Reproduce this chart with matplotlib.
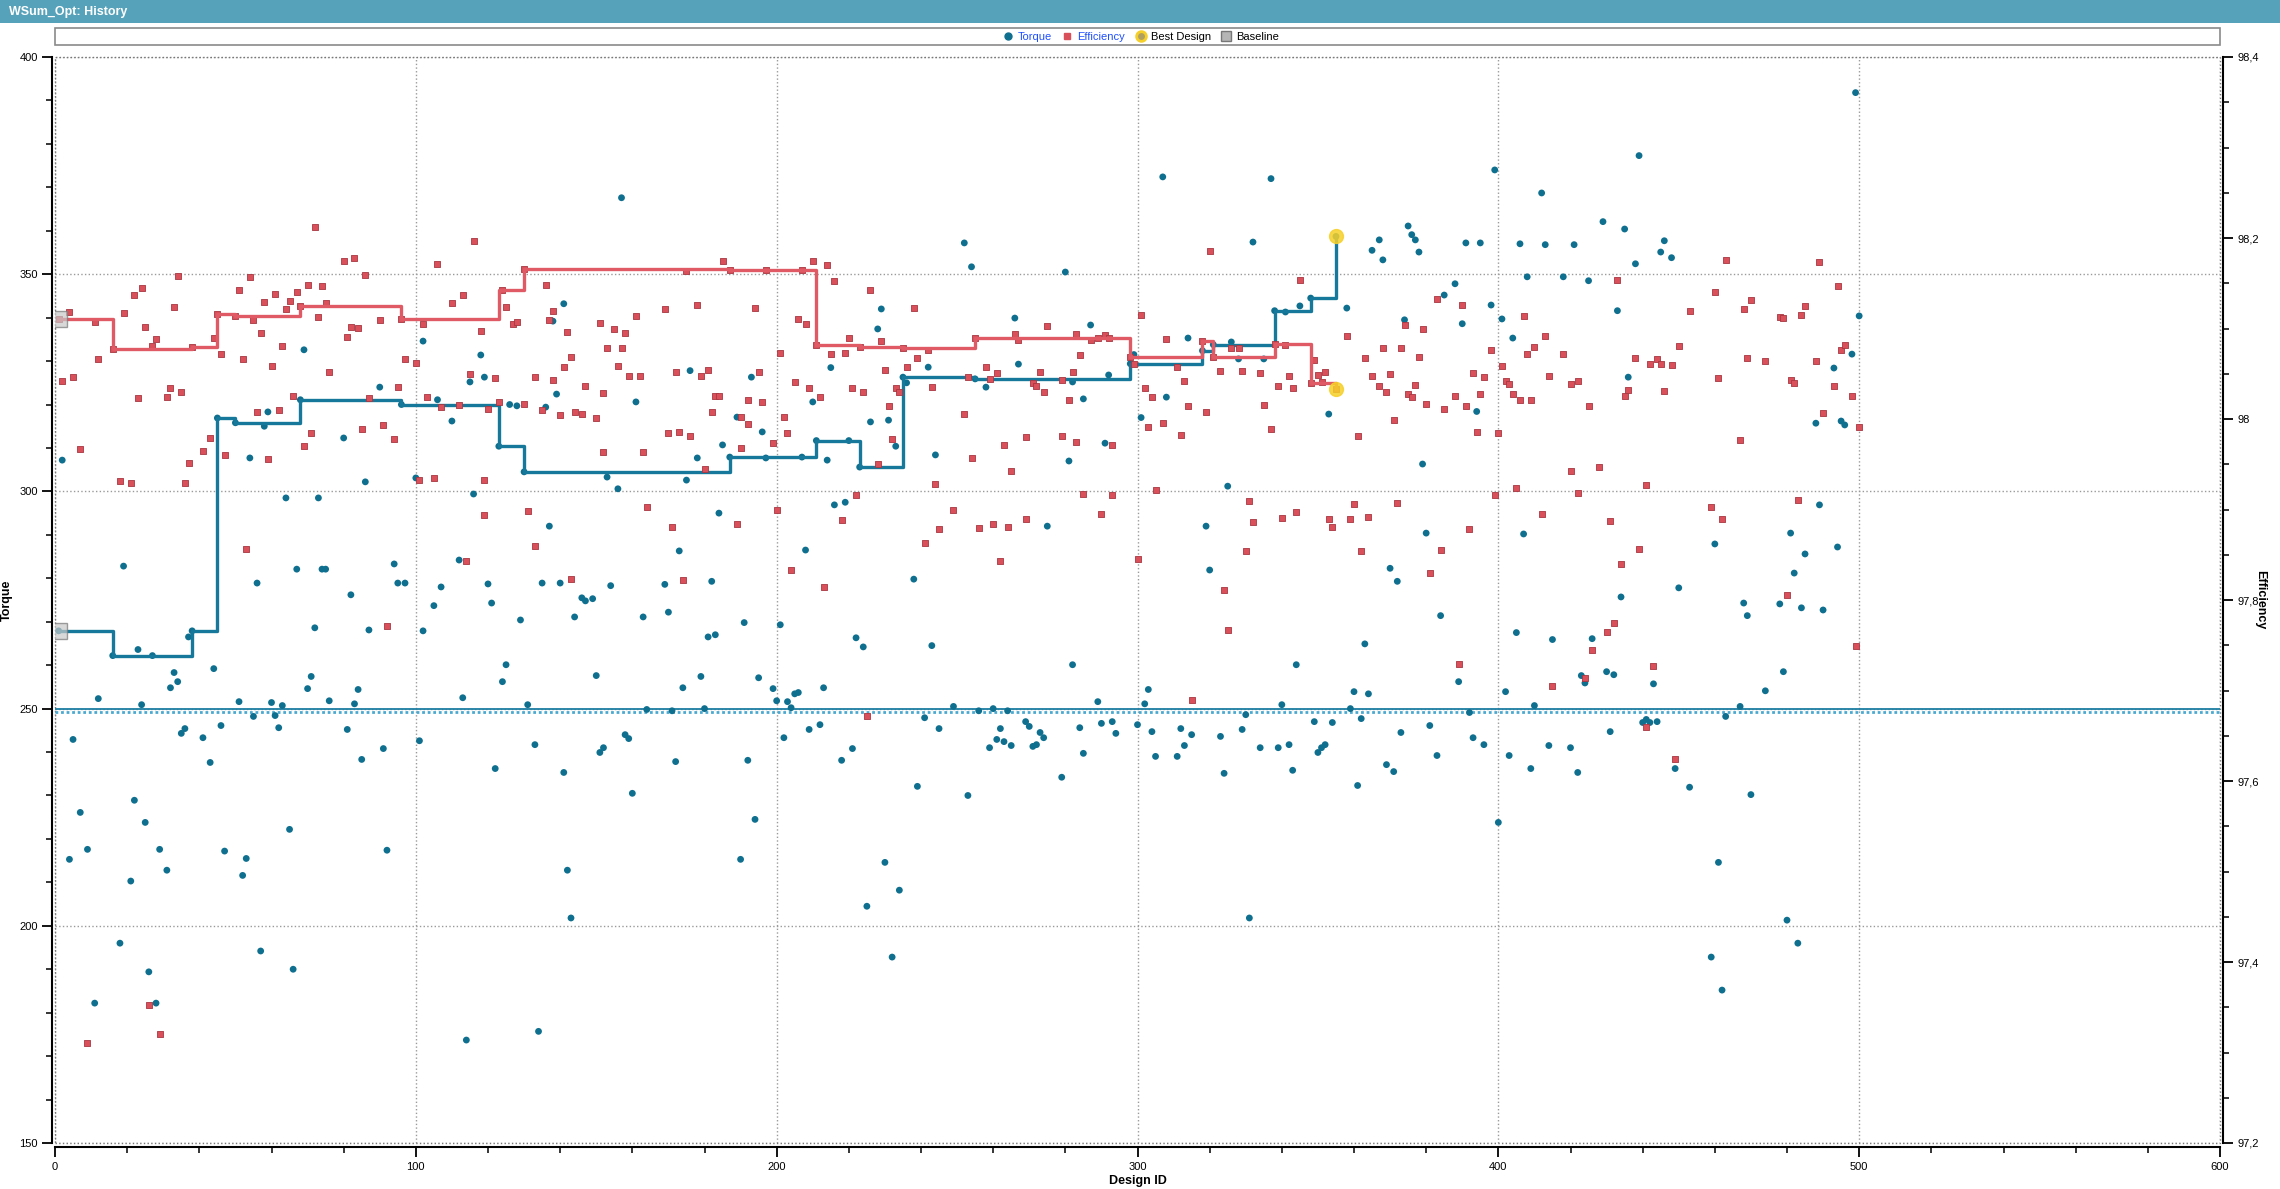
import matplotlib.pyplot as plt
import matplotlib.transforms as mtransforms
from matplotlib.lines import Line2D
from matplotlib.patches import Rectangle
from matplotlib.ticker import MultipleLocator, FuncFormatter

plt.rcParams['font.family'] = ['Liberation Sans', 'DejaVu Sans']

# ---- data ----
torque_id = [
    1, 2, 4, 5, 7, 9, 11, 12, 16, 18, 19, 21, 22, 23, 24, 25, 26, 27, 28, 29,
    31, 32, 33, 34, 35, 36, 37, 38, 41, 43, 44, 45, 46, 47, 50, 51, 52, 53, 54, 55,
    56, 57, 58, 59, 60, 61, 62, 63, 64, 65, 66, 67, 68, 69, 70, 71, 72, 73, 74, 75,
    76, 80, 81, 82, 83, 84, 85, 86, 87, 90, 91, 92, 94, 95, 96, 97, 100, 101, 102, 102,
    105, 106, 107, 110, 112, 113, 114, 115, 116, 118, 119, 120, 121, 122, 123, 124, 125, 126, 128, 130,
    129, 131, 133, 134, 135, 136, 137, 138, 139, 140, 141, 141, 142, 143, 144, 146, 147, 149, 150, 151,
    152, 153, 154, 156, 157, 158, 159, 160, 161, 163, 164,
    169, 170, 171, 172, 173, 174, 175, 176, 178, 179, 180, 181, 182, 183, 184, 185, 187, 189, 190, 191,
    192, 193, 194, 195, 196, 197, 199, 200, 201, 202, 203, 204, 205, 206, 207, 208, 209, 210, 211, 212,
    213, 214, 215, 216, 218, 219, 220, 221, 222, 223, 224, 225, 226, 228, 229, 230, 231, 232, 233, 234,
    235, 236, 238, 239, 241, 242, 243, 244, 245, 249, 252, 253, 254, 255, 256, 258, 259, 260, 261, 262,
    263, 264, 265, 266, 267, 269, 270, 271, 272, 273, 274, 275, 279, 280, 281, 282, 282, 284, 285, 285,
    287, 289, 290, 291, 292, 293, 294, 298, 299, 300, 301, 302, 303, 304, 305, 307, 308, 311, 312, 313,
    314, 315, 318, 319, 320, 321, 323, 324, 325, 326, 328, 329, 330, 331, 332, 334, 335,
    337, 338, 339, 340, 341, 342, 343, 344, 345, 348, 349, 350, 351, 352, 353, 354, 355, 358, 359, 360,
    361, 362, 363, 364, 365, 367, 368, 369, 370, 371, 372, 373, 374, 375, 376, 377, 378, 379, 380, 381,
    383, 384, 385, 388, 389, 390, 391, 392, 393, 394, 395, 396, 398, 399, 400, 401, 402, 403, 404, 405,
    406, 407, 408, 409, 410, 412, 413, 414, 415, 418, 420, 421, 422, 423, 424, 425, 426, 429, 430, 431,
    432, 433, 434, 435, 436, 438, 439, 440, 441, 442, 443, 444, 445, 446, 448, 449, 450, 453, 459, 460,
    461, 462, 463, 467, 468, 469, 470, 474, 478, 479, 480, 481, 482, 483, 484, 485, 488, 489, 490, 493,
    494, 495, 496, 498, 499, 500,
]
torque = [
    267.9, 307.2, 215.3, 242.9, 226.1, 217.6, 182.2, 252.3, 262.2, 196.0, 282.8, 210.3, 228.9, 263.6, 250.9, 223.8, 189.4, 262.2, 182.2, 217.6,
    212.8, 254.8, 258.3, 256.2, 244.3, 245.4, 266.5, 267.9, 243.3, 237.6, 259.2, 316.9, 246.1, 217.2, 315.8, 251.6, 211.6, 215.5, 307.7, 248.2,
    278.9, 194.2, 315.0, 318.3, 251.4, 248.4, 245.6, 250.7, 298.5, 222.2, 190.0, 282.1, 321.1, 332.6, 254.6, 257.4, 268.6, 298.5, 282.1, 282.1,
    251.8, 312.3, 245.2, 276.2, 251.1, 254.4, 238.3, 302.2, 268.1, 324.0, 240.8, 217.4, 283.3, 278.9, 320.0, 278.9, 303.1, 242.6, 334.6, 267.9,
    273.7, 321.1, 278.0, 316.2, 284.2, 252.5, 173.7, 325.2, 299.4, 331.4, 326.3, 278.7, 274.3, 236.2, 310.4, 256.2, 260.1, 320.0, 319.7, 304.5,
    270.4, 250.9, 241.7, 175.7, 278.9, 319.4, 292.0, 339.2, 322.4, 278.9, 343.2, 235.3, 212.8, 201.8, 271.1, 275.5, 274.8, 275.3, 257.6, 239.9,
    241.0, 303.3, 278.3, 300.6, 367.6, 244.0, 243.1, 230.5, 320.6, 271.1, 249.8,
    278.6, 272.2, 249.5, 237.8, 286.3, 254.8, 302.6, 327.8, 307.7, 257.4, 250.0, 266.5, 279.3, 267.0, 295.0, 310.7, 307.9, 317.1, 215.3, 269.8,
    238.1, 326.3, 224.5, 257.1, 313.7, 307.7, 254.6, 251.8, 269.3, 243.3, 251.6, 250.2, 253.4, 253.7, 307.9, 286.5, 245.2, 320.6, 311.7, 246.3,
    254.8, 307.2, 328.5, 296.9, 238.1, 297.5, 311.7, 240.8, 266.3, 305.6, 264.2, 204.5, 316.0, 337.4, 342.0, 214.6, 316.4, 192.8, 310.4, 208.2,
    326.3, 325.0, 279.8, 232.1, 247.9, 328.6, 264.5, 308.4, 245.4, 250.5, 357.2, 230.0, 351.7, 325.9, 249.5, 324.0, 241.0, 250.0, 242.9, 245.4,
    242.4, 249.5, 241.5, 339.9, 329.3, 247.0, 245.9, 241.3, 241.7, 244.5, 243.3, 292.0, 234.2, 350.5, 307.0, 325.2, 260.1, 245.6, 321.3, 239.7,
    338.3, 251.6, 246.6, 311.1, 326.8, 247.0, 244.3, 329.4, 331.5, 246.3, 317.0, 251.1, 254.4, 244.7, 239.0, 372.4, 321.7, 239.0, 245.4, 241.5,
    335.3, 244.0, 332.4, 292.0, 281.9, 333.8, 243.6, 235.1, 301.2, 334.4, 330.5, 245.2, 248.6, 201.8, 357.4, 241.0, 330.5,
    372.0, 341.6, 241.0, 250.9, 341.3, 241.7, 235.8, 260.1, 342.7, 344.5, 247.0, 239.9, 241.0, 241.7, 317.8, 246.8, 358.7, 342.2, 250.0, 253.9,
    232.3, 247.7, 264.9, 253.4, 355.5, 357.9, 353.3, 237.1, 282.3, 235.5, 279.3, 244.5, 339.5, 361.1, 359.1, 357.9, 355.1, 306.3, 290.4, 246.1,
    239.2, 271.4, 345.2, 347.8, 256.2, 338.6, 357.2, 249.1, 243.3, 318.4, 357.2, 241.7, 342.9, 374.0, 223.8, 339.7, 253.9, 239.2, 335.3, 267.5,
    357.0, 290.2, 349.4, 236.2, 250.7, 368.7, 356.8, 241.5, 265.9, 349.4, 241.0, 356.8, 235.3, 257.6, 255.9, 348.5, 266.1, 362.1, 258.5, 244.7,
    257.8, 341.6, 275.7, 360.4, 326.3, 352.4, 377.3, 246.8, 247.5, 246.8, 255.7, 247.0, 355.1, 357.7, 353.8, 236.2, 277.8, 231.9, 192.8, 287.9,
    214.6, 185.2, 248.2, 250.5, 274.3, 271.4, 230.2, 254.1, 274.1, 258.5, 201.3, 290.4, 281.2, 196.0, 273.2, 285.6, 315.7, 296.9, 272.7, 328.4,
    287.2, 316.2, 315.3, 331.6, 391.8, 340.4,
]

eff_id = [
    1, 2, 4, 5, 7, 9, 11, 12, 16, 18, 19, 21, 22, 23, 24, 25, 26, 27, 28, 29,
    31, 32, 33, 34, 35, 36, 37, 38, 41, 43, 44, 45, 46, 47, 50, 51, 52, 53, 54, 55,
    56, 57, 58, 59, 60, 61, 62, 63, 64, 65, 66, 67, 68, 69, 70, 71, 72, 73, 74, 75,
    76, 80, 81, 82, 83, 84, 85, 86, 87, 90, 91, 92, 94, 95, 96, 97, 100, 101, 102, 103,
    105, 106, 107, 110, 112, 113, 114, 115, 116, 118, 119, 119, 120, 122, 123, 124, 125, 127, 128, 130,
    130, 131, 133, 133, 135, 136, 137, 138, 138, 140, 141, 142, 143, 143, 144, 146, 147, 150, 151, 152,
    152, 153, 155, 156, 157, 158, 159, 161, 162, 163, 164,
    169, 170, 171, 172, 173, 174, 175, 176, 178, 179, 180, 181, 182, 183, 184, 185, 187, 189, 190, 190,
    192, 192, 194, 195, 196, 197, 199, 200, 201, 202, 203, 204, 205, 206, 207, 208, 209, 210, 211, 212,
    213, 214, 215, 216, 218, 219, 220, 221, 222, 223, 224, 225, 226, 228, 229, 230, 231, 232, 233, 234,
    235, 236, 238, 239, 241, 242, 243, 244, 245, 249, 252, 253, 254, 255, 256, 258, 259, 260, 261, 262,
    263, 264, 265, 266, 267, 269, 269, 271, 272, 273, 274, 275, 279, 279, 281, 282, 283, 283, 284, 285,
    287, 289, 290, 291, 292, 293, 293, 298, 299, 300, 301, 302, 303, 304, 305, 307, 308, 311, 312, 313,
    314, 315, 318, 319, 320, 321, 323, 324, 325, 326, 328, 329, 330, 331, 332, 334, 335,
    337, 338, 339, 340, 341, 342, 343, 344, 345, 348, 349, 350, 351, 352, 353, 354, 355, 358, 359, 360,
    361, 362, 363, 364, 365, 367, 368, 369, 370, 371, 372, 373, 374, 375, 376, 377, 378, 379, 380, 381,
    383, 384, 385, 388, 389, 390, 391, 392, 393, 394, 395, 396, 398, 399, 400, 401, 402, 403, 404, 405,
    406, 407, 408, 409, 410, 412, 413, 414, 415, 418, 420, 420, 422, 422, 424, 425, 426, 428, 430, 431,
    432, 433, 434, 435, 436, 438, 439, 441, 441, 442, 443, 444, 445, 446, 448, 449, 450, 453, 459, 460,
    461, 462, 463, 467, 468, 469, 470, 474, 478, 479, 480, 481, 482, 483, 484, 485, 488, 489, 490, 493,
    494, 495, 496, 498, 499, 500,
]
efficiency = [
    98.111, 98.042, 98.118, 98.046, 97.967, 97.311, 98.107, 98.066, 98.077, 97.931, 98.117, 97.929, 98.137, 98.023, 98.145, 98.102, 97.352, 98.081, 98.088, 97.320,
    98.024, 98.034, 98.124, 98.158, 98.030, 97.929, 97.951, 98.080, 97.965, 97.979, 98.090, 98.116, 98.072, 97.960, 98.114, 98.142, 98.066, 97.856, 98.157, 98.109,
    98.008, 98.095, 98.129, 97.956, 98.059, 98.138, 98.010, 98.081, 98.121, 98.130, 98.025, 98.140, 98.125, 97.970, 98.148, 97.984, 98.212, 98.113, 98.147, 98.128,
    98.052, 98.175, 98.091, 98.102, 98.178, 98.101, 97.989, 98.159, 98.023, 98.109, 97.993, 97.771, 97.978, 98.035, 98.110, 98.066, 98.062, 97.933, 98.105, 98.024,
    97.935, 98.171, 98.013, 98.128, 98.015, 98.137, 97.843, 98.050, 98.197, 98.097, 97.933, 97.894, 98.011, 98.045, 98.019, 98.142, 98.124, 98.105, 98.107, 98.166,
    98.017, 97.898, 98.046, 97.860, 98.010, 98.148, 98.109, 98.119, 98.043, 98.004, 98.058, 98.096, 98.068, 97.823, 98.008, 98.006, 98.037, 98.001, 98.106, 98.029,
    97.963, 98.079, 98.100, 98.059, 98.078, 98.095, 98.048, 98.114, 98.048, 97.963, 97.903,
    98.121, 97.985, 97.881, 98.052, 97.986, 97.822, 98.163, 97.981, 98.126, 98.048, 97.945, 98.054, 98.008, 98.025, 98.025, 98.175, 98.165, 97.884, 98.002, 97.968,
    98.021, 97.995, 98.123, 98.052, 98.019, 98.165, 97.974, 97.899, 98.073, 98.002, 97.984, 97.833, 98.041, 98.110, 98.165, 98.105, 98.034, 98.175, 98.082, 98.024,
    97.814, 98.170, 98.072, 98.153, 97.888, 98.073, 98.089, 98.034, 97.916, 98.080, 98.030, 97.672, 98.143, 97.950, 98.086, 98.054, 98.014, 97.978, 98.034, 98.030,
    98.079, 98.058, 98.123, 98.067, 97.863, 98.076, 98.035, 97.928, 97.878, 97.899, 98.005, 98.046, 97.957, 98.090, 97.880, 98.058, 98.044, 97.884, 98.051, 97.843,
    97.971, 97.881, 97.943, 98.094, 98.087, 97.980, 97.889, 98.040, 98.037, 98.052, 98.030, 98.103, 98.043, 97.981, 98.021, 98.052, 98.094, 97.975, 98.071, 97.917,
    98.087, 98.089, 97.895, 98.093, 98.090, 97.971, 97.916, 98.068, 98.061, 97.845, 98.115, 98.034, 97.991, 98.024, 97.922, 97.996, 98.088, 98.058, 97.982, 98.042,
    98.014, 97.689, 98.086, 98.008, 98.186, 98.069, 98.053, 97.811, 97.767, 98.078, 98.078, 98.053, 97.854, 97.909, 97.886, 98.051, 98.016,
    97.989, 98.083, 98.036, 97.891, 98.082, 98.047, 98.034, 97.897, 98.154, 98.040, 98.065, 98.049, 98.041, 98.052, 97.890, 97.881, 98.033, 98.092, 97.889, 97.906,
    97.981, 97.854, 98.067, 97.892, 98.047, 98.037, 98.078, 98.030, 98.050, 97.999, 97.907, 98.078, 98.104, 98.028, 98.024, 98.038, 98.069, 98.100, 98.017, 97.830,
    98.133, 97.855, 98.011, 98.025, 97.729, 98.126, 98.014, 97.878, 98.051, 97.986, 98.028, 98.046, 98.076, 97.916, 97.984, 98.059, 98.042, 98.039, 98.028, 97.924,
    98.021, 98.114, 98.072, 98.021, 98.080, 97.895, 98.092, 98.048, 97.705, 98.072, 98.039, 97.942, 98.042, 97.918, 97.714, 98.014, 97.745, 97.947, 97.765, 97.887,
    97.775, 98.154, 97.840, 98.025, 98.032, 98.067, 97.856, 97.927, 97.660, 98.061, 97.727, 98.066, 98.061, 98.031, 98.060, 97.624, 98.081, 98.119, 97.903, 98.140,
    98.045, 97.890, 98.176, 97.977, 98.122, 98.067, 98.131, 98.064, 98.113, 98.112, 97.805, 98.043, 98.040, 97.911, 98.115, 98.125, 98.064, 98.173, 98.007, 98.037,
    98.147, 98.076, 98.082, 98.025, 97.749, 97.991,
]

# best design so far (history of the weighted-sum optimum)
best_id = [1, 16, 38, 45, 50, 68, 96, 123, 130, 187, 211, 223, 235, 255, 298, 318, 321, 338, 348, 355]
best_torque = [267.9, 262.2, 267.9, 316.9, 315.8, 321.1, 320.0, 310.4, 304.5, 307.9,
               311.7, 305.6, 326.3, 325.9, 329.4, 332.4, 333.8, 341.6, 344.5, 358.7]
best_eff = [98.111, 98.077, 98.080, 98.116, 98.114, 98.125, 98.110, 98.142, 98.166, 98.165,
            98.082, 98.080, 98.079, 98.090, 98.068, 98.086, 98.069, 98.083, 98.040, 98.033]

baseline_id = 1
torque_limit = 250

TORQUE_C = '#0f6f8f'
EFF_C = '#d9505b'
W, H = 2280, 1189

fig = plt.figure(figsize=(W / 100, H / 100), dpi=100)

# title bar
fig.patches.append(Rectangle((0, 1 - 23 / H), 1, 23 / H, transform=fig.transFigure,
                             facecolor='#56a2bb', edgecolor='none', zorder=0))
fig.text(9 / W, 1 - 11.5 / H, 'WSum_Opt: History', color='white', fontsize=9,
         fontweight='bold', va='center', ha='left')
# legend frame
fig.patches.append(Rectangle((55 / W, 1 - 45 / H), 2165 / W, 17 / H, transform=fig.transFigure,
                             fill=False, edgecolor='#8a8a8a', lw=1.2))

ax = fig.add_axes([55 / W, 46 / H, 2165 / W, 1086 / H])
ax2 = ax.twinx()

ax.set_xlim(0, 600)
ax.set_ylim(150, 400)
ax2.set_ylim(97.2, 98.4)

# torque limit line with dotted hatch just below it
ax.plot([0, 600], [torque_limit, torque_limit], color='#1d7ea3', lw=1.3, zorder=2)
off = mtransforms.ScaledTranslation(0, -2.2 / 72, fig.dpi_scale_trans)
ax.plot([0, 600], [torque_limit, torque_limit], color='#4aa9d0', lw=2.0,
        ls=(0, (1, 1)), transform=ax.transData + off, zorder=2)

ax.scatter(torque_id, torque, s=24, marker='o', color=TORQUE_C, edgecolor='none', zorder=3)
ax.step(best_id, best_torque, where='post', color='#16789a', lw=2.4, zorder=4)
ax.plot(best_id[-1], best_torque[-1], 'o', ms=10, color='#f6d02a', alpha=0.85, zorder=6)
ax.plot(baseline_id, best_torque[0], 's', ms=11, mfc='#c8c8c8', mec='#777777', alpha=0.7, zorder=6)

ax2.scatter(eff_id, efficiency, s=25, marker='s', color=EFF_C, edgecolor='#a83640',
            linewidths=0.6, zorder=3)
ax2.step(best_id, best_eff, where='post', color='#e05a65', lw=2.4, zorder=4)
ax2.plot(best_id[-1], best_eff[-1], 'o', ms=10, color='#f6d02a', alpha=0.85, zorder=6)
ax2.plot(baseline_id, best_eff[0], 's', ms=11, mfc='#c8c8c8', mec='#777777', alpha=0.7, zorder=6)

# grid and dotted plot frame
ax.grid(True, which='major', ls=':', color='#9a9a9a', lw=1)
ax.set_axisbelow(True)
ax.add_patch(Rectangle((0, 0), 1, 1, transform=ax.transAxes, fill=False, ls=':',
                       ec='#777777', lw=1, clip_on=False, zorder=1))

for s in ['top', 'right']:
    ax.spines[s].set_visible(False)
for s in ['top', 'left', 'bottom']:
    ax2.spines[s].set_visible(False)
ax.spines['left'].set_position(('outward', 2))
ax.spines['bottom'].set_position(('outward', 3))
ax2.spines['right'].set_position(('outward', 2))
for sp in [ax.spines['left'], ax.spines['bottom'], ax2.spines['right']]:
    sp.set_linewidth(1.5)
    sp.set_color('black')

ax.xaxis.set_major_locator(MultipleLocator(100))
ax.xaxis.set_minor_locator(MultipleLocator(20))
ax.yaxis.set_major_locator(MultipleLocator(50))
ax.yaxis.set_minor_locator(MultipleLocator(10))
ax2.yaxis.set_major_locator(MultipleLocator(0.2))
ax2.yaxis.set_minor_locator(MultipleLocator(0.05))
ax2.yaxis.set_major_formatter(FuncFormatter(lambda v, p: ('%g' % round(v, 2)).replace('.', ',')))

for a in (ax, ax2):
    a.tick_params(which='major', length=7, width=1.3, labelsize=8, direction='out')
    a.tick_params(which='minor', length=4, width=1.1, direction='out')

ax.set_ylabel('Torque', fontsize=9, fontweight='bold')
ax.yaxis.set_label_coords(-0.0195, 0.5)
ax2.set_ylabel('Efficiency', fontsize=9, fontweight='bold', rotation=-90)
ax2.yaxis.set_label_coords(1.0215, 0.5)
ax.set_xlabel('Design ID', fontsize=9, fontweight='bold', labelpad=2)

handles = [
    Line2D([], [], marker='o', ls='', color=TORQUE_C, ms=5),
    Line2D([], [], marker='s', ls='', color=EFF_C, ms=5),
    Line2D([], [], marker='o', ls='', mfc='#b0a060', mec='#f6d02a', mew=2, ms=7),
    Line2D([], [], marker='s', ls='', mfc='#b5b5b5', mec='#777777', ms=7),
]
leg = fig.legend(handles, ['Torque', 'Efficiency', 'Best Design', 'Baseline'],
                 loc='center', bbox_to_anchor=(0.5, 1 - 36.5 / H), ncol=4, frameon=False,
                 fontsize=8, handletextpad=0.3, columnspacing=0.8, handlelength=1.2)
for t, c in zip(leg.get_texts(), ['#1f4fff', '#1f4fff', 'black', 'black']):
    t.set_color(c)

fig.savefig('out.png', dpi=100)
